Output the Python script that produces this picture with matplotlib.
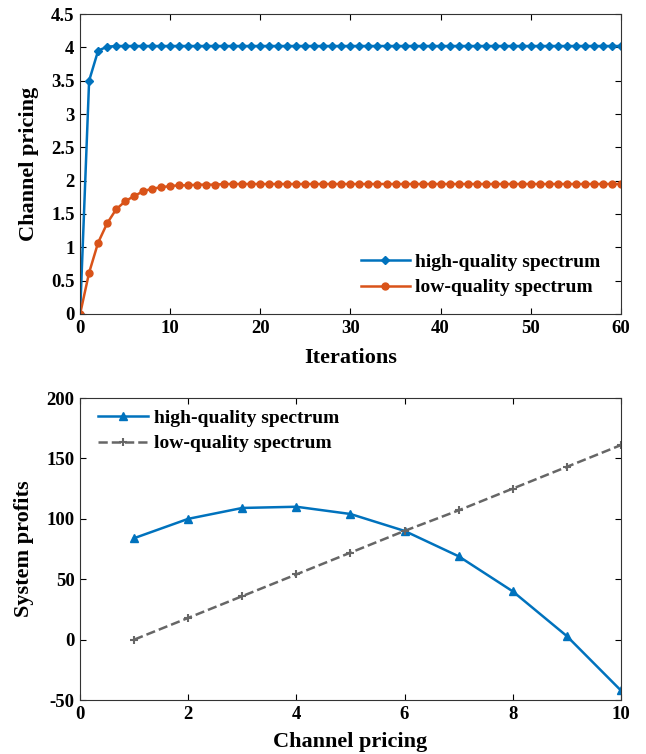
import matplotlib as mpl
mpl.use('Agg')
import matplotlib.pyplot as plt

plt.rcParams['font.family'] = ['Liberation Serif', 'DejaVu Serif']
plt.rcParams['font.weight'] = 'bold'
plt.rcParams['axes.unicode_minus'] = False

# top panel: pricing vs iterations
iterations = list(range(0, 61))
high_price = [0, 3.50, 3.95, 4.01, 4.02] + [4.02] * 56
low_price = [0, 0.62, 1.07, 1.36, 1.57, 1.69, 1.77, 1.84, 1.88, 1.90,
             1.92, 1.93, 1.93, 1.94, 1.94, 1.94, 1.95, 1.95] + [1.95] * 43

# bottom panel: profits vs pricing
pricing = [1, 2, 3, 4, 5, 6, 7, 8, 9, 10]
high_profit = [84, 100, 109, 110, 104, 90, 69, 40, 3, -42]
low_profit = [0, 18, 36, 54, 72, 90, 107, 125, 143, 161]

blue = '#0072BD'
orange = '#D95319'
gray = '#666666'

fig = plt.figure(figsize=(6.46, 7.54), dpi=100)
ax1 = fig.add_axes([0.124, 0.5836, 0.837, 0.3978])
ax2 = fig.add_axes([0.124, 0.0716, 0.837, 0.4005])

ax1.plot(iterations, high_price, color=blue, lw=1.8, marker='D', ms=4.5, label='high-quality spectrum')
ax1.plot(iterations, low_price, color=orange, lw=1.8, marker='o', ms=5,
         markerfacecolor=orange, label='low-quality spectrum')
ax1.set_xlim(0, 60)
ax1.set_ylim(0, 4.5)
ax1.set_xticks([0, 10, 20, 30, 40, 50, 60])
ax1.set_yticks([0, 0.5, 1, 1.5, 2, 2.5, 3, 3.5, 4, 4.5])
ax1.set_yticklabels(['0', '0.5', '1', '1.5', '2', '2.5', '3', '3.5', '4', '4.5'])
ax1.set_xlabel('Iterations', fontsize=16, fontweight='bold', labelpad=8)
ax1.set_ylabel('Channel pricing', fontsize=16, fontweight='bold', labelpad=9)
ax1.legend(loc='lower right', bbox_to_anchor=(0.995, 0.0), frameon=False, fontsize=14,
           handlelength=2.5, handletextpad=0.3, labelspacing=0.4)

ax2.plot(pricing, high_profit, color=blue, lw=1.8, marker='^', ms=6, label='high-quality spectrum')
ax2.plot(pricing, low_profit, color=gray, lw=1.8, ls='--', marker='+', ms=6, mew=1.5,
         label='low-quality spectrum')
ax2.set_xlim(0, 10)
ax2.set_ylim(-50, 200)
ax2.set_xticks([0, 2, 4, 6, 8, 10])
ax2.set_yticks([-50, 0, 50, 100, 150, 200])
ax2.set_xlabel('Channel pricing', fontsize=16, fontweight='bold', labelpad=7)
ax2.set_ylabel('System profits', fontsize=16, fontweight='bold', labelpad=9)
ax2.legend(loc='upper left', bbox_to_anchor=(0.0, 1.02), frameon=False, fontsize=14,
           handlelength=2.6, handletextpad=0.3, labelspacing=0.4)

for ax in (ax1, ax2):
    ax.tick_params(direction='in', top=True, right=True, labelsize=13.5, length=4, pad=4)
    for sp in ax.spines.values():
        sp.set_color('#333333')
        sp.set_linewidth(0.8)

fig.savefig('out.png', dpi=100)
